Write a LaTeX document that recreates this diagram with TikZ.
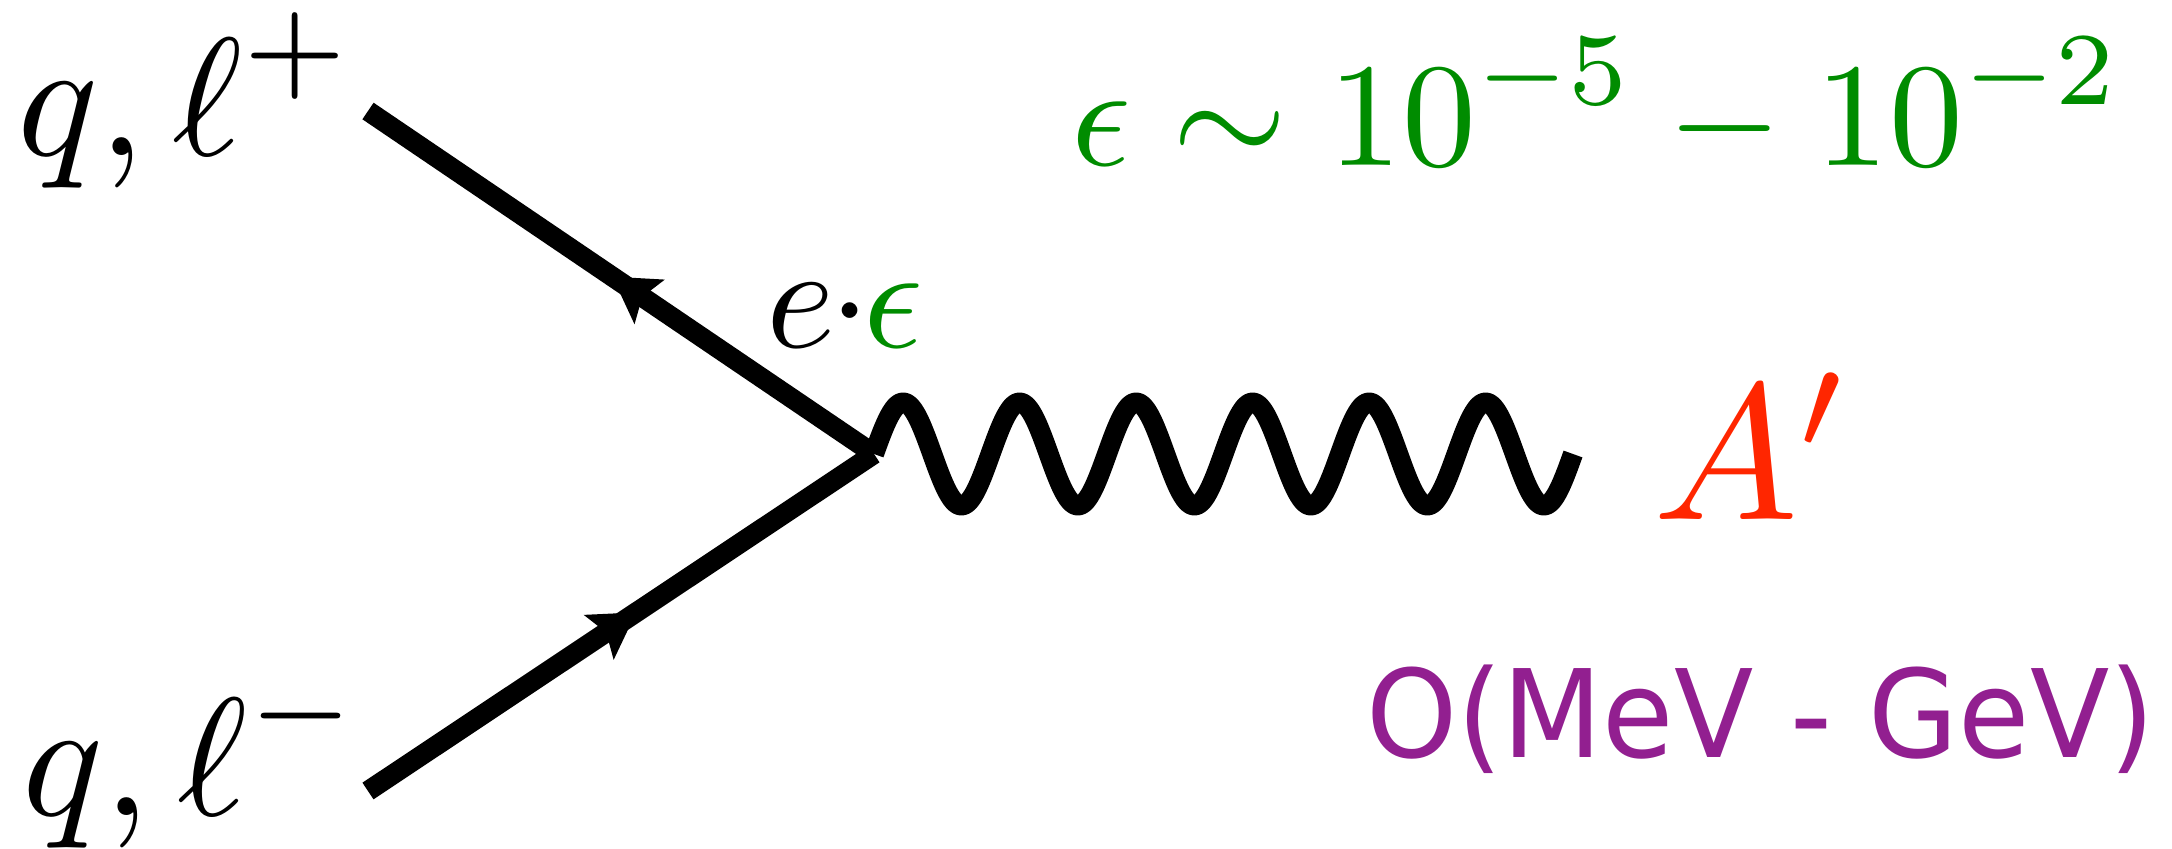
\documentclass[tikz,border=0pt]{standalone}
\usepackage{fontspec}
\newfontfamily\purplefont[FakeStretch=0.95]{DejaVu Sans}
\usetikzlibrary{arrows.meta,decorations.markings}
\definecolor{eg}{RGB}{0,140,0}
\definecolor{ar}{RGB}{255,38,0}
\definecolor{pu}{RGB}{146,31,144}
\begin{document}
\begin{tikzpicture}[x=0.01cm,y=-0.01cm,
  fermion/.style={line width=0.2cm, draw=black},
  photon/.style={line width=0.2cm, line join=round},
  lbl/.style={inner sep=0pt, anchor=base west, font=\fontsize{10}{12}\selectfont, transform shape},
  headat/.style={postaction={decorate}, decoration={markings, mark=at position #1 with {\arrow{Stealth[length=0.45cm,width=0.54cm,inset=0.09cm,line width=0pt]}}}}
]
\useasboundingbox (0,0) rectangle (2172,848);
\coordinate (v) at (874,454);
\coordinate (lt) at (368,111);
\coordinate (lb) at (368,791);
\coordinate (we) at (1573,454);

\draw[fermion, headat=0.517] (v) -- (lt);
\draw[fermion, headat=0.53] (lb) -- (v);
\draw[photon, shift={(v)}] plot[domain=0:2160, samples=361, smooth] ({\x/360*116.5},{-51.5*sin(\x)});

\node[lbl, scale=4.78] (ltxt) at (14,155) {$\displaystyle q,\ell^{+}$};
\node[lbl, scale=4.78] (lbtxt) at (19,815) {$\displaystyle q,\ell^{-}$};
\node[lbl, scale=4.2] (coup) at (764,347) {$e\mkern-0.8mu{\cdot}\mkern-0.8mu\textcolor{eg}{\epsilon}$};
\node[lbl, text=eg, scale=4.2] (eps) at (1069,165) {$\displaystyle\epsilon\sim10^{-5}-10^{-2}$};
\node[lbl, text=ar, scale=5.5] (ap) at (1650,519) {$A'$};
\node[lbl, text=pu, scale=3.47, font=\purplefont\fontsize{10}{12}\selectfont] (mass) at (1364,757) {O(MeV - GeV)};
\end{tikzpicture}
\end{document}
